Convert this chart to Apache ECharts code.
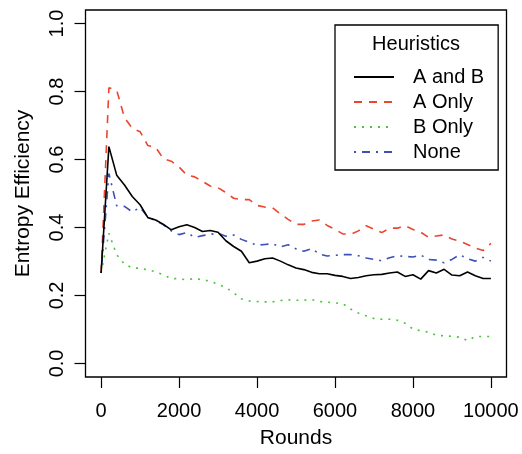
<!DOCTYPE html>
<html><head><meta charset="utf-8">
<script src="https://cdn.jsdelivr.net/npm/echarts@6/dist/echarts.min.js"></script>
<style>html,body{margin:0;padding:0;background:#fff}#c{width:522px;height:454px}</style>
</head><body><div id="c"></div>
<script>
const rounds = [0,200,400,600,800,1000,1200,1400,1600,1800,2000,2200,2400,2600,2800,3000,3200,3400,3600,3800,4000,4200,4400,4600,4800,5000,5200,5400,5600,5800,6000,6200,6400,6600,6800,7000,7200,7400,7600,7800,8000,8200,8400,8600,8800,9000,9200,9400,9600,9800,10000];
const aAndB = [0.266,0.638,0.554,0.525,0.491,0.467,0.429,0.422,0.409,0.393,0.402,0.408,0.400,0.388,0.391,0.386,0.361,0.344,0.330,0.296,0.301,0.308,0.310,0.301,0.290,0.281,0.276,0.268,0.264,0.264,0.259,0.256,0.250,0.253,0.258,0.261,0.262,0.266,0.269,0.256,0.261,0.248,0.273,0.266,0.277,0.260,0.258,0.269,0.258,0.250,0.250];
const aOnly = [0.266,0.811,0.804,0.723,0.692,0.682,0.641,0.636,0.602,0.595,0.578,0.554,0.549,0.536,0.522,0.517,0.503,0.486,0.482,0.482,0.465,0.460,0.458,0.440,0.424,0.409,0.409,0.419,0.422,0.406,0.395,0.381,0.380,0.390,0.405,0.395,0.385,0.398,0.398,0.405,0.394,0.386,0.371,0.375,0.378,0.366,0.360,0.350,0.340,0.332,0.353];
const bOnly = [0.266,0.383,0.320,0.292,0.281,0.280,0.275,0.270,0.260,0.250,0.249,0.246,0.250,0.246,0.242,0.233,0.223,0.208,0.190,0.184,0.182,0.181,0.181,0.185,0.187,0.186,0.186,0.188,0.182,0.180,0.178,0.176,0.160,0.148,0.140,0.132,0.130,0.130,0.127,0.118,0.101,0.096,0.092,0.083,0.081,0.080,0.077,0.067,0.079,0.079,0.079];
const none = [0.266,0.559,0.464,0.462,0.446,0.459,0.431,0.420,0.408,0.390,0.379,0.385,0.371,0.376,0.380,0.383,0.374,0.378,0.365,0.356,0.348,0.350,0.352,0.343,0.349,0.337,0.330,0.338,0.322,0.316,0.318,0.320,0.320,0.317,0.310,0.306,0.302,0.311,0.317,0.315,0.313,0.319,0.306,0.304,0.296,0.306,0.320,0.308,0.301,0.312,0.301];
const xTicks = [0,2000,4000,6000,8000,10000];
const yTicks = [0,0.2,0.4,0.6,0.8,1.0];
const seriesNames = ['A and B','A Only','B Only','None'];
const legendTitle = 'Heuristics';
const xTitle = 'Rounds';
const yTitle = 'Entropy Efficiency';

const FONT = 'Liberation Sans, Arial, Helvetica, sans-serif';
const colors = ['#000000','#EB4530','#4CC43C','#3D50B5'];
const dashes = ['solid',[8,7],[2,6],[2,6,8,6]];
const values = [aAndB,aOnly,bOnly,none];

const chart = echarts.init(document.getElementById('c'), null, {renderer:'canvas'});
chart.setOption({
  animation:false,
  backgroundColor:'#fff',
  textStyle:{fontFamily:FONT},
  grid:{left:85.5,right:15.5,top:10,bottom:70,show:true,borderColor:'#000',borderWidth:1.3,backgroundColor:'transparent'},
  xAxis:{type:'value',min:-400,max:10400,
    name:xTitle,nameLocation:'middle',nameGap:51,nameTextStyle:{fontSize:21,color:'#000',fontFamily:FONT},
    splitLine:{show:false},axisLine:{show:false,onZero:false},
    axisTick:{show:true,inside:false,customValues:xTicks,length:11,lineStyle:{color:'#000',width:1.2}},
    axisLabel:{customValues:xTicks,inside:false,margin:24,fontSize:20,color:'#000',fontFamily:FONT,
      formatter:v=>String(v)}},
  yAxis:{type:'value',min:-0.04,max:1.04,
    name:yTitle,nameLocation:'middle',nameGap:52,nameTextStyle:{fontSize:21,color:'#000',fontFamily:FONT},
    splitLine:{show:false},axisLine:{show:false,onZero:false},
    axisTick:{show:true,inside:false,customValues:yTicks,length:11,lineStyle:{color:'#000',width:1.2}},
    axisLabel:{customValues:yTicks,inside:false,rotate:90,margin:18,fontSize:20,color:'#000',fontFamily:FONT,
      formatter:v=>v.toFixed(1)}},
  legend:{orient:'vertical',left:335,top:25,padding:[42,14,8,18],
    borderColor:'#000',borderWidth:1.3,backgroundColor:'#fff',
    itemWidth:40,itemHeight:14,itemGap:5,
    itemStyle:{opacity:0},
    textStyle:{fontSize:20,color:'#000',fontFamily:FONT,lineHeight:20,padding:[0,0,0,14]},
    data:seriesNames},
  graphic:[{type:'text',x:416,y:44,z:100,
    style:{text:legendTitle,fill:'#000',font:'20px '+FONT,textAlign:'center',textVerticalAlign:'middle'}}],
  series:seriesNames.map((n,i)=>({
    name:n,type:'line',symbol:'none',showSymbol:false,
    data:rounds.map((r,j)=>[r,values[i][j]]),
    lineStyle:{color:colors[i],width:1.6,type:dashes[i]},
    itemStyle:{color:colors[i]},
    z:10-i
  }))
});
</script></body></html>
